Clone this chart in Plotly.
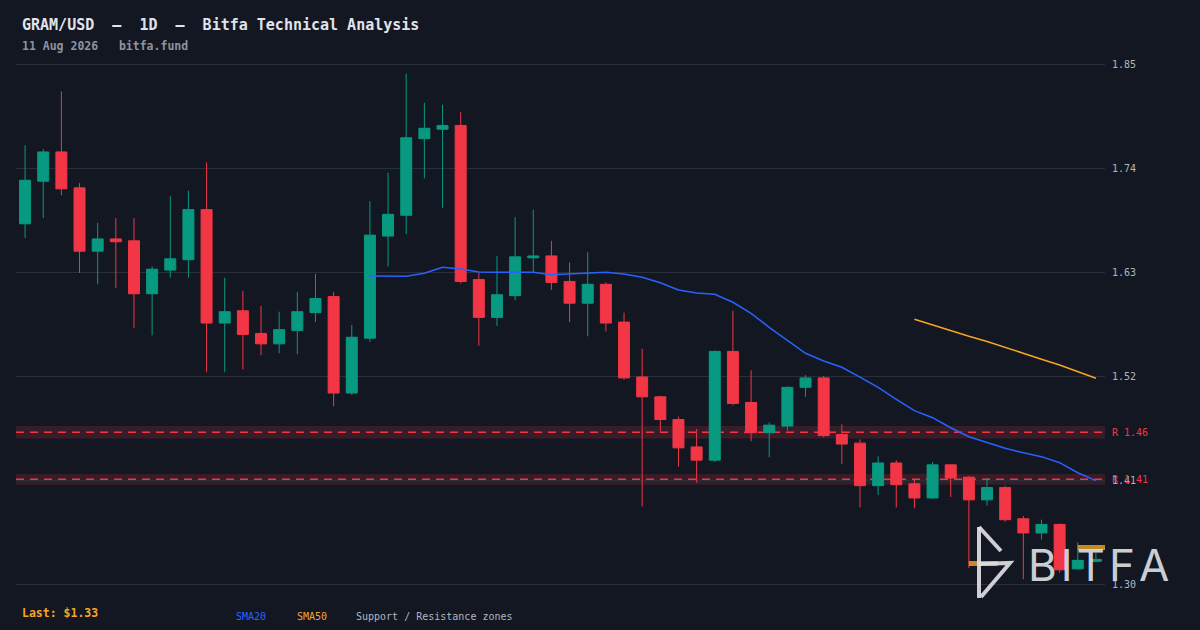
import plotly.graph_objects as go
import pandas as pd

# ---------------- data ----------------
dates = pd.date_range(end="2026-08-11", periods=60, freq="D")

open_ = [1.681, 1.726, 1.757, 1.719, 1.652, 1.665, 1.663, 1.607, 1.632, 1.643,
         1.696, 1.576, 1.589, 1.565, 1.554, 1.568, 1.587, 1.604, 1.502, 1.560,
         1.668, 1.690, 1.771, 1.781, 1.785, 1.622, 1.582, 1.605, 1.645, 1.647,
         1.620, 1.597, 1.617, 1.577, 1.519, 1.498, 1.474, 1.445, 1.431, 1.546,
         1.492, 1.460, 1.467, 1.508, 1.518, 1.458, 1.449, 1.404, 1.428, 1.406,
         1.391, 1.426, 1.413, 1.389, 1.402, 1.369, 1.354, 1.363, 1.316, 1.324]
high = [1.764, 1.760, 1.821, 1.724, 1.682, 1.687, 1.687, 1.636, 1.710, 1.716,
        1.746, 1.624, 1.610, 1.594, 1.588, 1.609, 1.628, 1.609, 1.574, 1.705,
        1.735, 1.840, 1.809, 1.807, 1.799, 1.629, 1.647, 1.688, 1.696, 1.663,
        1.640, 1.651, 1.619, 1.587, 1.549, 1.499, 1.477, 1.464, 1.547, 1.589,
        1.526, 1.471, 1.509, 1.521, 1.520, 1.469, 1.453, 1.435, 1.431, 1.410,
        1.429, 1.427, 1.414, 1.412, 1.404, 1.372, 1.368, 1.364, 1.344, 1.333]
low = [1.666, 1.687, 1.711, 1.629, 1.617, 1.613, 1.571, 1.563, 1.624, 1.624,
       1.524, 1.524, 1.527, 1.542, 1.544, 1.543, 1.577, 1.488, 1.500, 1.556,
       1.636, 1.670, 1.729, 1.698, 1.618, 1.552, 1.573, 1.600, 1.630, 1.611,
       1.577, 1.562, 1.567, 1.516, 1.382, 1.461, 1.424, 1.407, 1.429, 1.489,
       1.451, 1.434, 1.462, 1.498, 1.455, 1.427, 1.381, 1.394, 1.381, 1.380,
       1.390, 1.392, 1.317, 1.383, 1.366, 1.305, 1.347, 1.312, 1.315, 1.323]
close = [1.727, 1.757, 1.718, 1.652, 1.665, 1.662, 1.607, 1.633, 1.644, 1.696,
         1.576, 1.588, 1.564, 1.554, 1.569, 1.588, 1.602, 1.502, 1.561, 1.669,
         1.691, 1.772, 1.782, 1.785, 1.620, 1.582, 1.606, 1.646, 1.647, 1.619,
         1.597, 1.617, 1.576, 1.518, 1.498, 1.474, 1.444, 1.431, 1.546, 1.491,
         1.460, 1.468, 1.508, 1.518, 1.457, 1.448, 1.404, 1.428, 1.405, 1.391,
         1.426, 1.412, 1.389, 1.402, 1.368, 1.354, 1.363, 1.315, 1.325, 1.326]

# SMA20 (starts at candle index 19)
sma20 = [1.6258, 1.6255, 1.6255, 1.6286, 1.6350, 1.6332, 1.6300, 1.6297, 1.6297, 1.6297,
         1.6272, 1.6279, 1.6289, 1.6297, 1.6279, 1.6244, 1.6187, 1.6110, 1.6077, 1.6064,
         1.5980, 1.5863, 1.5715, 1.5573, 1.5440, 1.5359, 1.5292, 1.5189, 1.5080, 1.4954,
         1.4833, 1.4759, 1.4653, 1.4558, 1.4499, 1.4435, 1.4389, 1.4347, 1.4283, 1.4177,
         1.4093]
# SMA50 (starts at candle index 49)
sma50 = [1.5800, 1.5739, 1.5680, 1.5620, 1.5565, 1.5505, 1.5440, 1.5378, 1.5316, 1.5250,
         1.5176]

res_levels = [1.4605, 1.4107]
res_labels = ["R 1.46", "R 1.41"]
res_half_height = [0.0067, 0.0056]

# short orange support marks: start candle index, price
support_start = [52, 58]
support_price = [1.3217, 1.3386]

ytick_vals = [1.30, 1.41, 1.52, 1.63, 1.74, 1.85]
ytick_text = ["1.30", "1.41", "1.52", "1.63", "1.74", "1.85"]

title_text = "GRAM/USD  –  1D  –  Bitfa Technical Analysis"
subtitle_text = "11 Aug 2026   bitfa.fund"
last_text = "Last: $1.33"

# ---------------- style ----------------
W, H = 1200, 630
ML, MR, MT, MB = 16, 95, 40, 30
PW, PH = W - ML - MR, H - MT - MB
BG = "#131722"
UP = "#089981"
DN = "#f23645"
GRID = "#2a2e39"
MONO = "DejaVu Sans Mono"
Y_RANGE = [1.283077, 1.875385]


def fx(px):
    return (px - ML) / PW


def fy(py):
    return (H - MB - py) / PH


def nb(s):
    return s.replace(" ", "\u00a0")


half_day = pd.Timedelta(hours=12)

fig = go.Figure()

fig.add_trace(go.Candlestick(
    x=dates, open=open_, high=high, low=low, close=close,
    increasing=dict(line=dict(color=UP, width=1), fillcolor=UP),
    decreasing=dict(line=dict(color=DN, width=1), fillcolor=DN),
    whiskerwidth=0, showlegend=False, hoverinfo="skip",
))

fig.add_trace(go.Scatter(x=dates[19:], y=sma20, mode="lines",
                         line=dict(color="#2962ff", width=1.5), showlegend=False, hoverinfo="skip"))
fig.add_trace(go.Scatter(x=dates[49:], y=sma50, mode="lines",
                         line=dict(color="#f5a623", width=1.5), showlegend=False, hoverinfo="skip"))

for s, p in zip(support_start, support_price):
    fig.add_trace(go.Scatter(x=[dates[s], dates[s] + pd.Timedelta(hours=38)], y=[p, p], mode="lines",
                             line=dict(color="rgba(245,166,35,0.8)", width=5),
                             showlegend=False, hoverinfo="skip"))

shapes = []
annotations = []
for lvl, hh, lab in zip(res_levels, res_half_height, res_labels):
    shapes.append(dict(type="rect", xref="paper", yref="y", x0=0, x1=1, y0=lvl - hh, y1=lvl + hh,
                       fillcolor="rgba(242,54,69,0.17)", line=dict(width=0), layer="between"))
    shapes.append(dict(type="line", xref="paper", yref="y", x0=0, x1=1, y0=lvl, y1=lvl,
                       line=dict(color=DN, width=1.5, dash="8px,6px"), layer="between"))
    annotations.append(dict(xref="paper", yref="y", x=fx(1110), y=lvl, xanchor="left", yanchor="middle",
                            text=nb(lab), showarrow=False, font=dict(family=MONO, size=10, color=DN)))

# BITFA watermark icon
LOGO = "rgba(222,224,228,0.92)"
for pts in [[(979, 527), (1001, 551)], [(979, 527), (979, 598)],
            [(979, 564), (1010, 563), (981, 597)]]:
    path = "M " + " L ".join(f"{fx(a):.5f},{fy(b):.5f}" for a, b in pts)
    shapes.append(dict(type="path", xref="paper", yref="paper", path=path,
                       line=dict(color=LOGO, width=4), layer="above"))
annotations.append(dict(xref="paper", yref="paper", x=fx(1026), y=fy(565), xanchor="left", yanchor="middle",
                        text="\u200a".join("BITFA"), showarrow=False,
                        font=dict(family="Inter", size=44, color=LOGO, weight=400)))

# title block
annotations.append(dict(xref="paper", yref="paper", x=fx(20), y=fy(25), xanchor="left", yanchor="middle",
                        text=nb(title_text), showarrow=False,
                        font=dict(family=MONO, size=15, color="#e0e3eb", weight="bold")))
annotations.append(dict(xref="paper", yref="paper", x=fx(20), y=fy(46), xanchor="left", yanchor="middle",
                        text=nb(subtitle_text), showarrow=False,
                        font=dict(family=MONO, size=11.5, color="#8f939e", weight="bold")))
# footer
annotations.append(dict(xref="paper", yref="paper", x=fx(20), y=fy(613), xanchor="left", yanchor="middle",
                        text=nb(last_text), showarrow=False,
                        font=dict(family=MONO, size=11.5, color="#f5a623", weight="bold")))
for x0, txt, col in [(234, "SMA20", "#2962ff"), (295, "SMA50", "#f5a623"),
                     (354, "Support / Resistance zones", "#b2b5be")]:
    annotations.append(dict(xref="paper", yref="paper", x=fx(x0), y=fy(616), xanchor="left", yanchor="middle",
                            text=nb(txt), showarrow=False,
                            font=dict(family=MONO, size=10, color=col)))

fig.update_layout(
    width=W, height=H,
    margin=dict(l=ML, r=MR, t=MT, b=MB, pad=0),
    paper_bgcolor=BG, plot_bgcolor=BG,
    boxgap=0.394, boxgroupgap=0,
    showlegend=False,
    shapes=shapes, annotations=annotations,
    xaxis=dict(range=[dates[0] - half_day, dates[-1] + half_day], showgrid=False, zeroline=False,
               showticklabels=False, showline=False, ticks="", rangeslider=dict(visible=False)),
    yaxis=dict(range=Y_RANGE, side="right", tickvals=ytick_vals, ticktext=ytick_text,
               showgrid=True, gridcolor=GRID, gridwidth=1, zeroline=False, showline=False,
               ticks="", ticklabelstandoff=6,
               tickfont=dict(family=MONO, size=10, color="#b2b5be")),
)

fig.write_html("out.html", config={"displayModeBar": False},
               post_script="document.body.style.margin='0';document.body.style.background='#131722';")
